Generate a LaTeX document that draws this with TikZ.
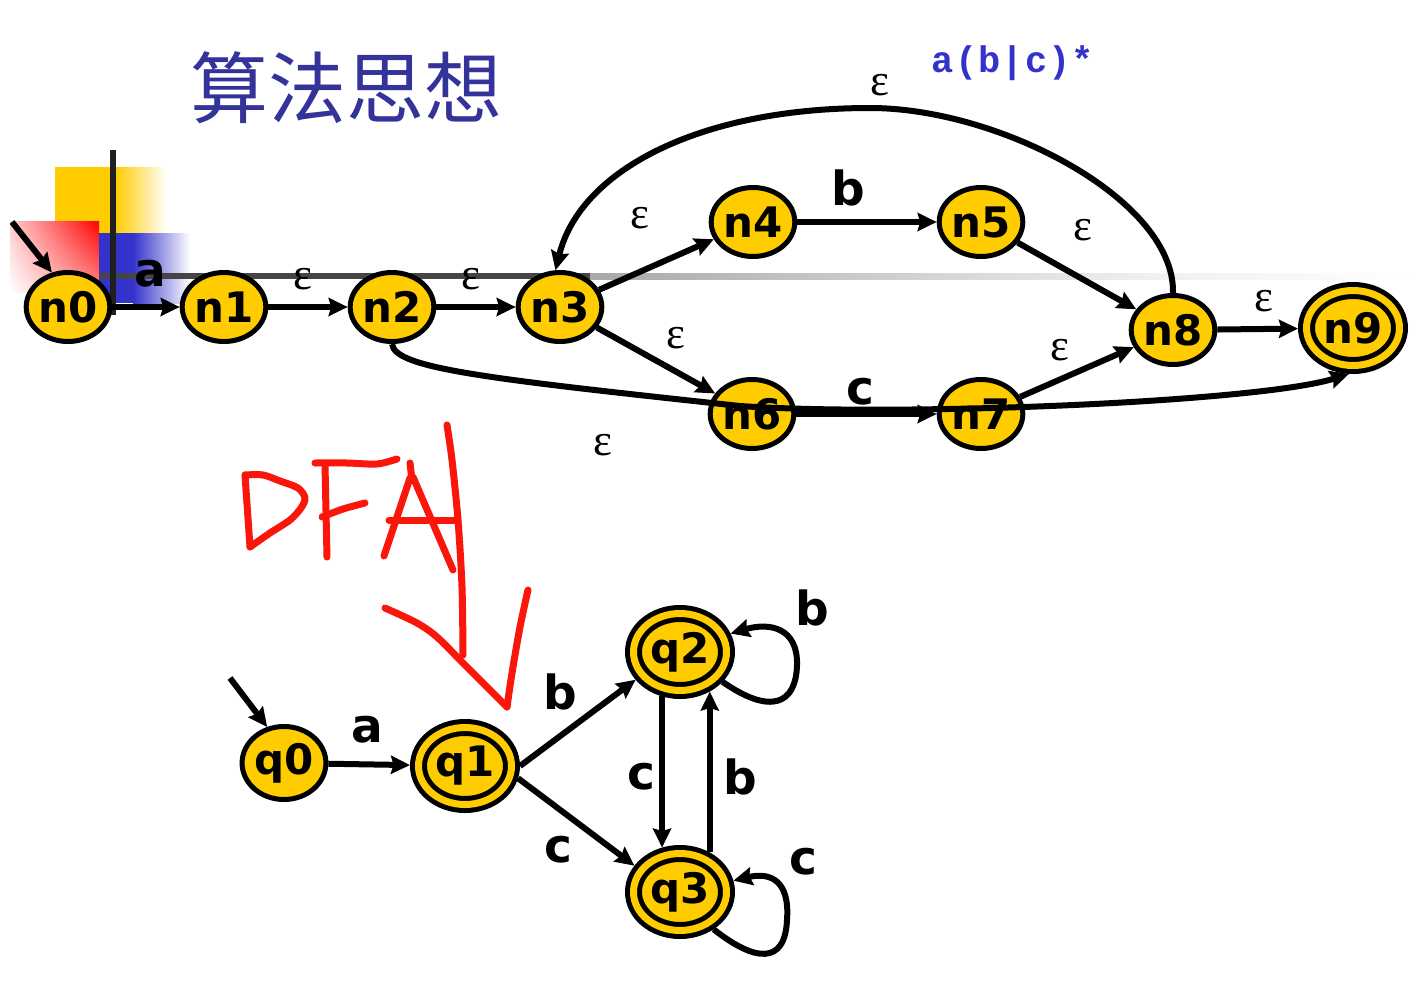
\documentclass[tikz,border=0pt]{standalone}
\usepackage{fontspec}
\usetikzlibrary{shapes.geometric,arrows.meta,shadings}
\newfontfamily\dvsans{DejaVu Sans}
\newfontfamily\epsserif{Liberation Serif}
\newfontfamily\cjkfont{Noto Sans CJK SC}
\newfontfamily\regexfont[LetterSpace=3]{Liberation Mono}
\definecolor{nfill}{RGB}{255,204,0}
\definecolor{titleblue}{RGB}{51,51,153}
\definecolor{rxblue}{RGB}{51,51,204}
\definecolor{inkred}{RGB}{250,22,10}
\definecolor{sqblue}{RGB}{51,51,204}
\newcommand\mynodefont{\dvsans\bfseries\fontsize{42}{42}\selectfont}
\newcommand\mylblfont{\dvsans\bfseries\fontsize{47}{47}\selectfont}
\newcommand\myepsfont{\epsserif\fontsize{45}{45}\selectfont}
\tikzset{
  st/.style={ellipse, draw=black, line width=5pt, fill=nfill, inner sep=0pt,
    minimum width=81pt, minimum height=69pt, font=\mynodefont},
  acc/.style={st, double=nfill, double distance=7pt, minimum width=93pt,
    minimum height=77pt, outer sep=8.5pt},
  edge/.style={-{Stealth[length=19pt,width=18pt,inset=2.5pt]}, line width=6pt, draw=black},
  lbl/.style={font=\mylblfont, inner sep=0pt},
  eps/.style={font=\myepsfont, inner sep=0pt},
  ink/.style={draw=inkred, line width=7pt, line cap=round, line join=round}
}
\begin{document}
\begin{tikzpicture}[x=1pt,y=-1pt]
\useasboundingbox[fill=white] (0,0) rectangle (1417,1004);
% slide decoration
\fill[nfill] (55,167) rectangle (115,233);
\shade[left color=nfill, right color=white] (115,167) rectangle (167,233);
\shade[upper right=red, upper left=red!20!white, lower left=white, lower right=red!45!white] (10,221) rectangle (99,292);
\fill[sqblue] (99,233) rectangle (133,303);
\shade[left color=sqblue, right color=white] (133,233) rectangle (190,303);
\fill[black!73] (99,273) rectangle (590,279);
\shade[left color=black!34, right color=black!6] (590,273) rectangle (1150,279);
\shade[left color=black!6, right color=white] (1150,273) rectangle (1417,279);
\draw[line width=5.5pt, black!88] (113,150) -- (113,315);
% title and regex
\node[text=titleblue, font=\cjkfont\fontsize{78}{78}\selectfont, inner sep=0pt] (title) at (346,88) {算法思想};
\node[text=rxblue, font=\regexfont\bfseries\fontsize{37}{37}\selectfont, inner sep=0pt] (regex) at (1013,63) {a(b|c)*};
% NFA nodes
\node[st] (n0) at (68,307) {n0};
\node[st] (n1) at (224,307) {n1};
\node[st] (n2) at (392,307) {n2};
\node[st] (n3) at (560,307) {n3};
\node[st] (n4) at (753,222) {n4};
\node[st] (n5) at (981,222) {n5};
\node[st] (n6) at (752,414) {n6};
\node[st] (n7) at (981,414) {n7};
\node[st] (n8) at (1173,330) {n8};
\node[acc, minimum height=75pt] (n9) at (1353,328) {n9};
% NFA edges
\coordinate (s0) at (12,222);
\draw[edge] (s0) -- (n0.115);
\draw[edge] (n0) -- (n1);
\draw[edge] (n1) -- (n2);
\draw[edge] (n2) -- (n3);
\draw[edge] (n3) -- (n4);
\draw[edge] (n4) -- (n5);
\draw[edge] (n5) -- (n8);
\draw[edge] (n3) -- (n6);
\draw[edge] (n6) -- (n7);
\draw[edge] (n7) -- (n8);
\draw[edge] (n8) -- (n9);
\draw[edge] (n8.north) .. controls (1175,200) and (1000,108) .. (870,108)
   .. controls (700,108) and (580,170) .. (n3.97);
\draw[edge] (n2.south) .. controls (395,368) and (480,378) .. (740,406)
   .. controls (900,417) and (1260,402) .. (n9.265);
% NFA labels
\node[lbl] (la) at (150,274) {a};
\node[eps] (e12) at (303,279) {ε};
\node[eps] (e23) at (471,279) {ε};
\node[eps] (e34) at (640,218) {ε};
\node[lbl] (lb45) at (848,188) {b};
\node[eps] (e58) at (1083,230) {ε};
\node[eps] (e36) at (676,338) {ε};
\node[lbl] (lc67) at (860,392) {c};
\node[eps] (e78) at (1060,350) {ε};
\node[eps] (e89) at (1264,301) {ε};
\node[eps] (e83) at (880,85) {ε};
\node[eps] (e29) at (603,445) {ε};
% DFA nodes
\node[st, minimum width=82pt, minimum height=73pt] (q0) at (284,763) {q0};
\node[acc] (q1) at (465,766) {q1};
\node[acc] (q2) at (680,652) {q2};
\node[acc] (q3) at (680,892) {q3};
% DFA edges
\coordinate (s1) at (230,678);
\draw[edge] (s1) -- (q0.115);
\draw[edge] (q0) -- (q1);
\draw[edge] (q1.east) -- (q2.212);
\draw[edge] (q1.347) -- (q3.150);
\draw[edge] (q2.248) -- (q3.112);
\draw[edge] (q3.53) -- (q2.307);
\draw[edge] (q2.325) .. controls (770,715) and (796,705) .. (797,665)
   .. controls (798,628) and (770,622) .. (q2.20);
\draw[edge] (q3.312) .. controls (755,962) and (785,965) .. (787,920)
   .. controls (790,880) and (770,872) .. (q3.12);
% DFA labels
\node[lbl] (lqa) at (367,730) {a};
\node[lbl] (lqb1) at (560,692) {b};
\node[lbl] (lqc1) at (558,850) {c};
\node[lbl] (lqc2) at (641,777) {c};
\node[lbl] (lqb2) at (740,777) {b};
\node[lbl] (lqb3) at (812,608) {b};
\node[lbl] (lqc3) at (803,862) {c};
% handwritten DFA
\draw[ink] (245,475) -- (250,547);
\draw[ink] plot[smooth] coordinates {(245,475) (263,475) (280,481) (298,488) (305,498) (301,508) (290,520) (270,533) (250,547)};
\draw[ink] plot[smooth] coordinates {(315,463) (347,463) (377,464) (397,459)};
\draw[ink] (325,465) -- (327,557);
\draw[ink] plot[smooth] coordinates {(322,517) (343,509) (365,503)};
\draw[ink] (410,463) -- (412,480);
\draw[ink] (410,478) -- (384,556);
\draw[ink] (413,477) -- (453,570);
\draw[ink] (389,520) -- (457,520);
\draw[ink] plot[smooth] coordinates {(447,425) (452,460) (458,520) (462,587) (463,655)};
\draw[ink] plot[smooth] coordinates {(385,608) (417,623) (437,637) (463,663) (483,683) (507,707)};
\draw[ink] plot[smooth] coordinates {(507,707) (512,673) (520,627) (528,590)};
\end{tikzpicture}
\end{document}
